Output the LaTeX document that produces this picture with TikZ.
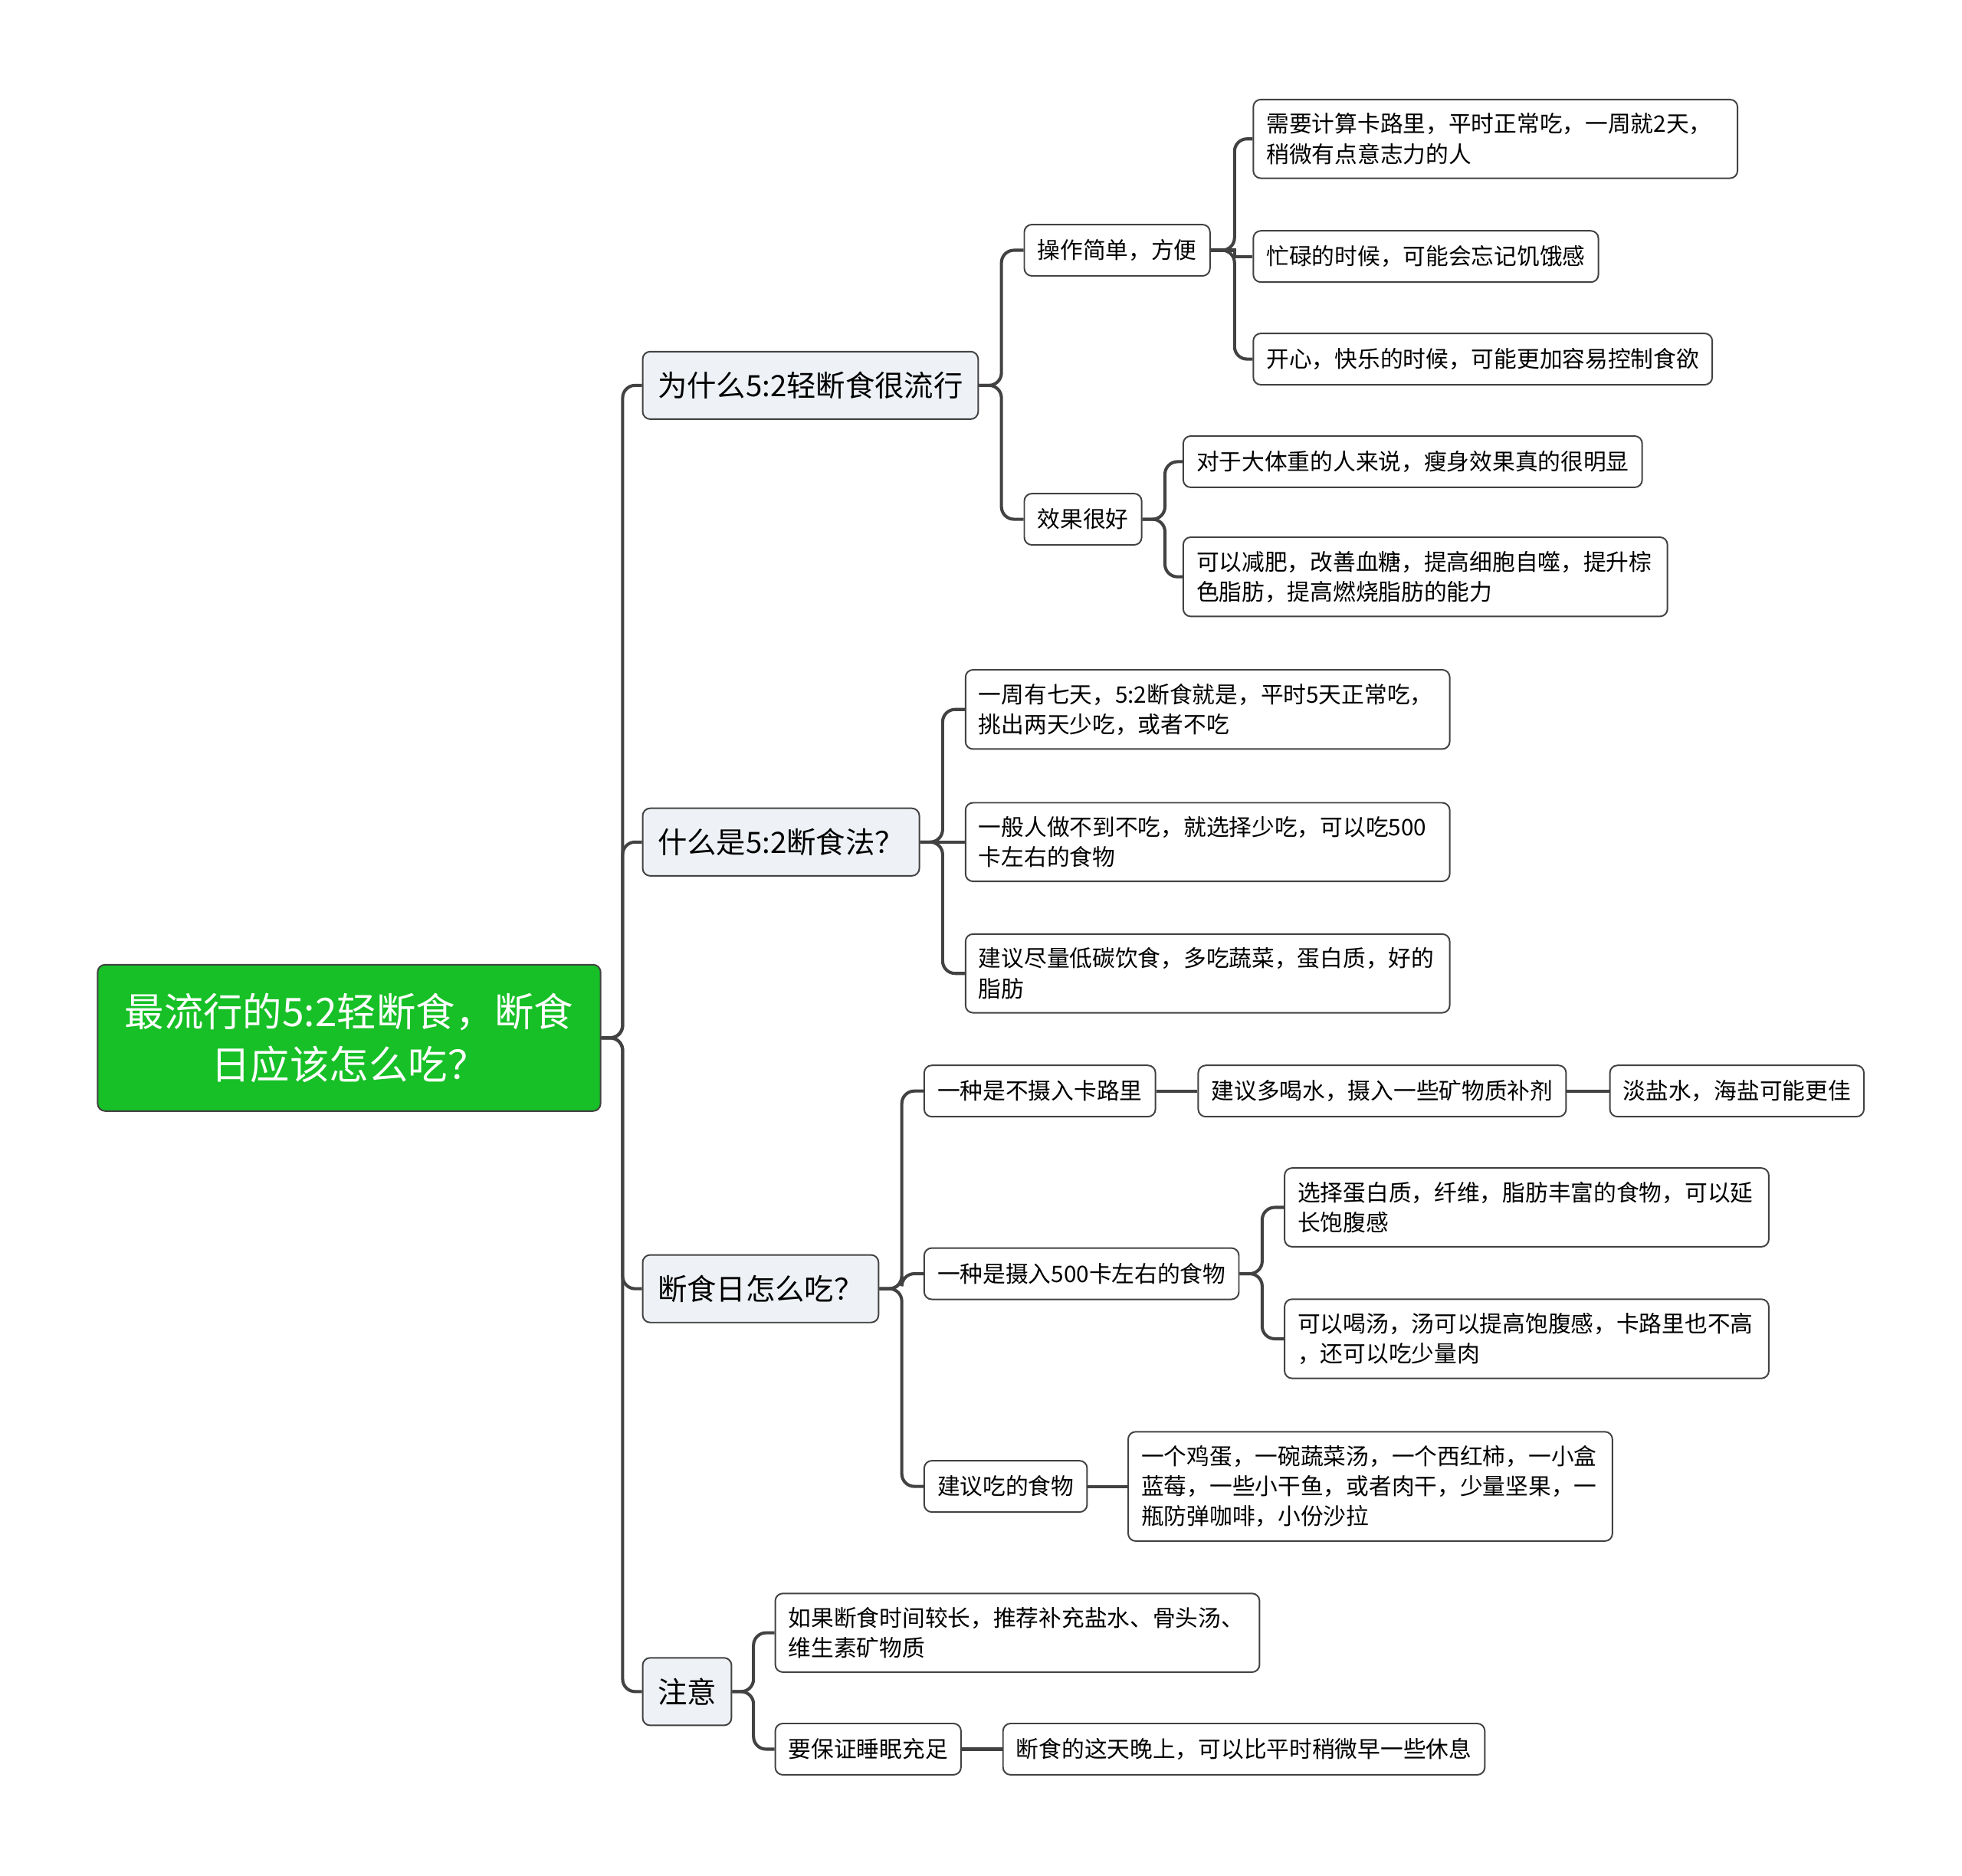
\documentclass[tikz,border=0pt]{standalone}
\usepackage{fontspec}
\setmainfont{Noto Sans CJK SC}
\definecolor{rootgreen}{RGB}{22,192,38}
\definecolor{topicgray}{RGB}{238,241,245}
\definecolor{linegray}{RGB}{66,66,66}
\tikzset{
  rootbox/.style={draw=linegray, line width=1.2pt, fill=rootgreen, rounded corners=6pt, text=white, align=center, font=\fontsize{31.5}{42}\selectfont, minimum width=402pt, minimum height=117pt, inner sep=0pt},
  topic/.style={draw=linegray, line width=1.2pt, fill=topicgray, rounded corners=6pt, font=\fontsize{23.5}{30}\selectfont, inner xsep=12pt, minimum height=54pt, anchor=west},
  leaf/.style={draw=linegray, line width=1.2pt, fill=white, rounded corners=6pt, font=\fontsize{18.2}{24}\selectfont, inner xsep=10.5pt, inner ysep=11pt, minimum height=41pt, anchor=west},
  para/.style={leaf, text width=366pt, align=left},
  link/.style={draw=linegray, line width=2.5pt, rounded corners=10pt},
}
\begin{document}
\begin{tikzpicture}[x=1pt, y=-1pt]
	\useasboundingbox (0,0) rectangle (1568,1499) ;
	\node (root)[rootbox] at (279,829.5) {最流行的5:2轻断食，断食\\日应该怎么吃？} ;
	\node (a)[topic] at (513,308) {为什么5:2轻断食很流行} ;
	\node (b)[topic] at (513,673) {什么是5:2断食法？} ;
	\node (c)[topic] at (513,1030) {断食日怎么吃？} ;
	\node (d)[topic] at (513,1352) {注意} ;
		\node (a1)[leaf] at (818,200) {操作简单，方便} ;
		\node (a2)[leaf] at (818,415) {效果很好} ;
		\node (a11)[para] at (1001,111) {需要计算卡路里，平时正常吃，一周就2天，\\稍微有点意志力的人} ;
		\node (a12)[leaf] at (1001,205) {忙碌的时候，可能会忘记饥饿感} ;
		\node (a13)[leaf] at (1001,287) {开心，快乐的时候，可能更加容易控制食欲} ;
		\node (a21)[leaf] at (945,369) {对于大体重的人来说，瘦身效果真的很明显} ;
		\node (a22)[para] at (945,461) {可以减肥，改善血糖，提高细胞自噬，提升棕\\色脂肪，提高燃烧脂肪的能力} ;
		\node (b1)[para] at (771,567) {一周有七天，5:2断食就是，平时5天正常吃，\\挑出两天少吃，或者不吃} ;
		\node (b2)[para] at (771,673) {一般人做不到不吃，就选择少吃，可以吃500\\卡左右的食物} ;
		\node (b3)[para] at (771,778) {建议尽量低碳饮食，多吃蔬菜，蛋白质，好的\\脂肪} ;
		\node (c1)[leaf] at (738,872) {一种是不摄入卡路里} ;
		\node (c11)[leaf] at (957,872) {建议多喝水，摄入一些矿物质补剂} ;
		\node (c111)[leaf] at (1286,872) {淡盐水，海盐可能更佳} ;
		\node (c2)[leaf] at (738,1018) {一种是摄入500卡左右的食物} ;
		\node (c21)[para] at (1026,965) {选择蛋白质，纤维，脂肪丰富的食物，可以延\\长饱腹感} ;
		\node (c22)[para] at (1026,1070) {可以喝汤，汤可以提高饱腹感，卡路里也不高\\，还可以吃少量肉} ;
		\node (c3)[leaf] at (738,1188) {建议吃的食物} ;
		\node (c31)[para] at (901,1188) {一个鸡蛋，一碗蔬菜汤，一个西红柿，一小盒\\蓝莓，一些小干鱼，或者肉干，少量坚果，一\\瓶防弹咖啡，小份沙拉} ;
		\node (d1)[para] at (619,1305) {如果断食时间较长，推荐补充盐水、骨头汤、\\维生素矿物质} ;
		\node (d2)[leaf] at (619,1398) {要保证睡眠充足} ;
		\node (d21)[leaf] at (801,1398) {断食的这天晚上，可以比平时稍微早一些休息} ;
	\draw[link] (root.east) -- ++(17,0) |- (a.west) ;
	\draw[link] (root.east) -- ++(17,0) |- (b.west) ;
	\draw[link] (root.east) -- ++(17,0) |- (c.west) ;
	\draw[link] (root.east) -- ++(17,0) |- (d.west) ;
	\draw[link] (a.east) -- ++(18,0) |- (a1.west) ;
	\draw[link] (a.east) -- ++(18,0) |- (a2.west) ;
	\draw[link] (a1.east) -- ++(19,0) |- (a11.west) ;
	\draw[link, sharp corners] (a1.east) -- ++(19,0) |- (a12.west) ;
	\draw[link] (a1.east) -- ++(19,0) |- (a13.west) ;
	\draw[link] (a2.east) -- ++(18,0) |- (a21.west) ;
	\draw[link] (a2.east) -- ++(18,0) |- (a22.west) ;
	\draw[link] (b.east) -- ++(18,0) |- (b1.west) ;
	\draw[link] (b.east) -- (b2.west) ;
	\draw[link] (b.east) -- ++(18,0) |- (b3.west) ;
	\draw[link] (c.east) -- ++(18,0) |- (c1.west) ;
	\draw[link] (c.east) -- ++(18,0) |- (c2.west) ;
	\draw[link] (c.east) -- ++(18,0) |- (c3.west) ;
	\draw[link] (c1.east) -- (c11.west) ;
	\draw[link] (c11.east) -- (c111.west) ;
	\draw[link] (c2.east) -- ++(18,0) |- (c21.west) ;
	\draw[link] (c2.east) -- ++(18,0) |- (c22.west) ;
	\draw[link] (c3.east) -- (c31.west) ;
	\draw[link] (d.east) -- ++(17,0) |- (d1.west) ;
	\draw[link] (d.east) -- ++(17,0) |- (d2.west) ;
	\draw[link] (d2.east) -- (d21.west) ;
\end{tikzpicture}
\end{document}
